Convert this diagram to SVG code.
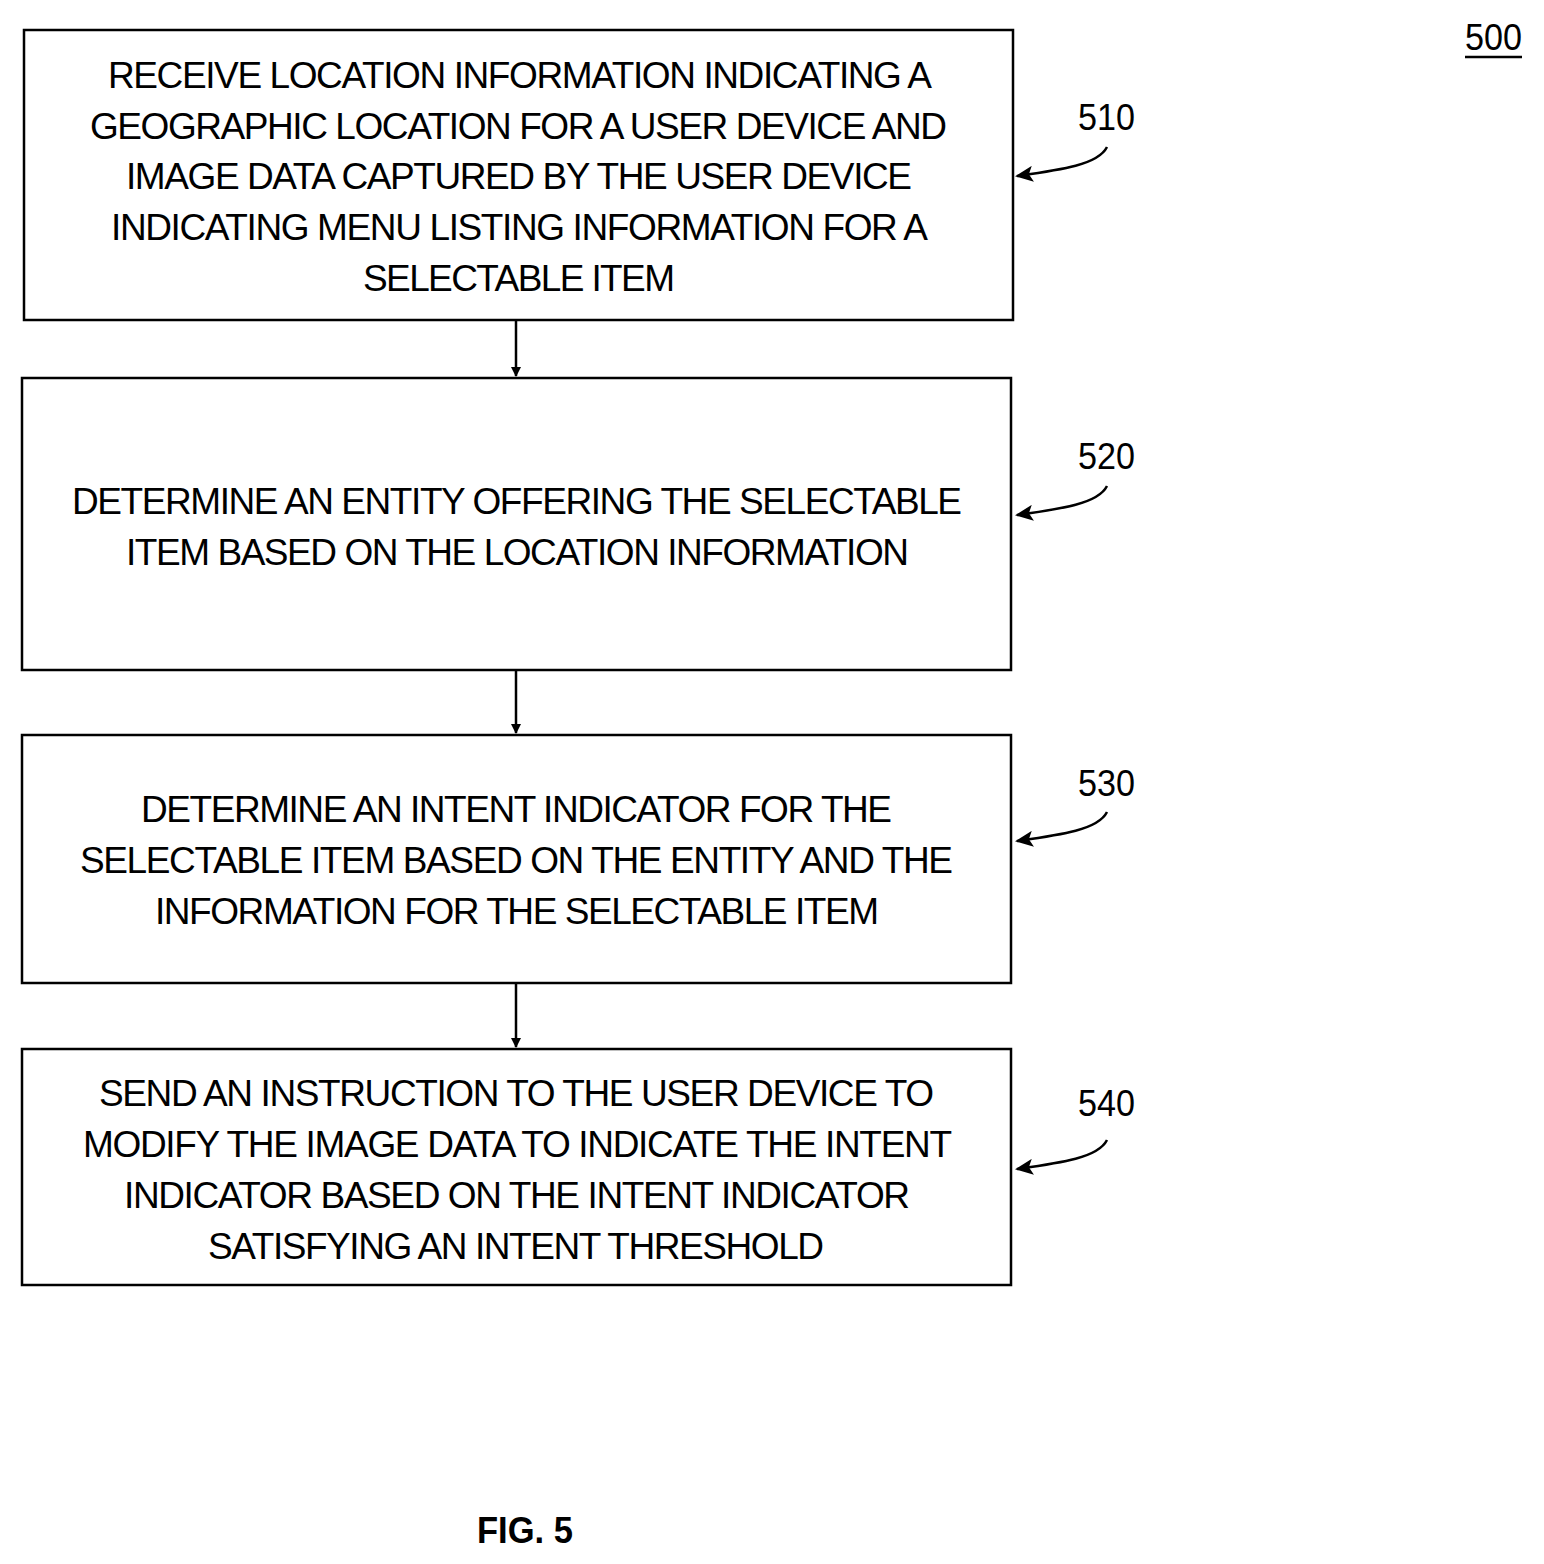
<svg xmlns="http://www.w3.org/2000/svg" width="1544" height="1564" viewBox="0 0 1544 1564">
<style>
.b{fill:#fff;stroke:#000;stroke-width:2.5}
.t{font-family:"Liberation Sans",Arial,sans-serif;font-size:37px;fill:#000}
.c{stroke:#000;stroke-width:2.5;fill:none}
</style>
<defs><marker id="a" markerWidth="10" markerHeight="10" refX="9" refY="5" orient="auto" markerUnits="userSpaceOnUse" viewBox="0 0 10 10"><path d="M0,0L10,5L0,10z" fill="#000"/></marker>
<marker id="h" markerWidth="18" markerHeight="16" refX="16" refY="8" orient="auto" markerUnits="userSpaceOnUse"><path d="M0,0L18,8L0,16L4,8z" fill="#000"/></marker></defs>
<rect width="1544" height="1564" fill="#fff"/>
<g id="n510"><rect class="b" x="24" y="30" width="989" height="290"/>
<text class="t" lengthAdjust="spacingAndGlyphs"><tspan x="108" y="88" textLength="824">RECEIVE LOCATION INFORMATION INDICATING A</tspan><tspan x="90" y="139" textLength="857">GEOGRAPHIC LOCATION FOR A USER DEVICE AND</tspan><tspan x="126" y="189" textLength="786">IMAGE DATA CAPTURED BY THE USER DEVICE</tspan><tspan x="111" y="240" textLength="817">INDICATING MENU LISTING INFORMATION FOR A</tspan><tspan x="363" y="291" textLength="312">SELECTABLE ITEM</tspan></text></g>
<g id="n520"><rect class="b" x="22" y="378" width="989" height="292"/>
<text class="t" lengthAdjust="spacingAndGlyphs"><tspan x="72" y="514" textLength="890">DETERMINE AN ENTITY OFFERING THE SELECTABLE</tspan><tspan x="126" y="565" textLength="783">ITEM BASED ON THE LOCATION INFORMATION</tspan></text></g>
<g id="n530"><rect class="b" x="22" y="735" width="989" height="248"/>
<text class="t" lengthAdjust="spacingAndGlyphs"><tspan x="141" y="822" textLength="751">DETERMINE AN INTENT INDICATOR FOR THE</tspan><tspan x="80" y="873" textLength="873">SELECTABLE ITEM BASED ON THE ENTITY AND THE</tspan><tspan x="155" y="924" textLength="724">INFORMATION FOR THE SELECTABLE ITEM</tspan></text></g>
<g id="n540"><rect class="b" x="22" y="1049" width="989" height="236"/>
<text class="t" lengthAdjust="spacingAndGlyphs"><tspan x="99" y="1106" textLength="835">SEND AN INSTRUCTION TO THE USER DEVICE TO</tspan><tspan x="83" y="1157" textLength="869">MODIFY THE IMAGE DATA TO INDICATE THE INTENT</tspan><tspan x="124" y="1208" textLength="786">INDICATOR BASED ON THE INTENT INDICATOR</tspan><tspan x="208" y="1259" textLength="616">SATISFYING AN INTENT THRESHOLD</tspan></text></g>
<g id="labels" class="t">
<text x="1078" y="130" textLength="57" lengthAdjust="spacingAndGlyphs">510</text>
<text x="1078" y="469" textLength="57" lengthAdjust="spacingAndGlyphs">520</text>
<text x="1078" y="796" textLength="57" lengthAdjust="spacingAndGlyphs">530</text>
<text x="1078" y="1116" textLength="57" lengthAdjust="spacingAndGlyphs">540</text>
<text x="1465" y="50" textLength="57" lengthAdjust="spacingAndGlyphs">500</text>
<line x1="1465" y1="57" x2="1522" y2="57" stroke="#000" stroke-width="2.5"/>
<text x="477" y="1543" textLength="96" lengthAdjust="spacingAndGlyphs" font-weight="bold">FIG. 5</text>
</g>
<g id="connectors">
<line class="c" x1="516" y1="320" x2="516" y2="376" marker-end="url(#a)"/>
<line class="c" x1="516" y1="670" x2="516" y2="733" marker-end="url(#a)"/>
<line class="c" x1="516" y1="983" x2="516" y2="1047" marker-end="url(#a)"/>
<path class="c" d="M1107,147C1098,165 1060,170 1017,176" marker-end="url(#h)"/>
<path class="c" d="M1107,486C1098,504 1060,509 1017,515" marker-end="url(#h)"/>
<path class="c" d="M1107,812C1098,830 1060,835 1017,841" marker-end="url(#h)"/>
<path class="c" d="M1107,1140C1098,1158 1060,1163 1017,1169" marker-end="url(#h)"/>
</g>
</svg>
